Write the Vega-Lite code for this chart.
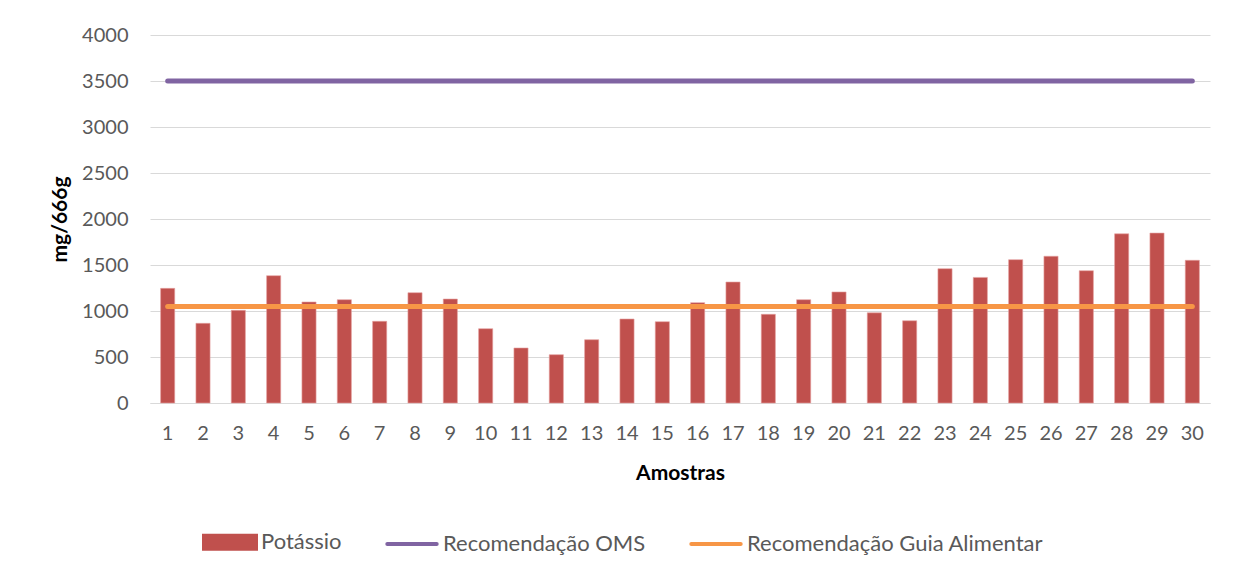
{
  "$schema": "https://vega.github.io/schema/vega-lite/v6.json",
  "width": 1060,
  "height": 368,
  "autosize": "none",
  "padding": {"left": 150, "top": 35, "right": 31, "bottom": 174},
  "background": "white",
  "config": {
    "view": {"stroke": null},
    "font": "Lato",
    "legend": {
      "orient": "none",
      "legendX": 52,
      "legendY": 479,
      "direction": "horizontal",
      "columns": 3,
      "symbolSize": 2704,
      "labelFont": "Lato",
      "labelFontSize": 22,
      "labelColor": "#595959",
      "labelOffset": 3,
      "labelLimit": 500,
      "columnPadding": 37
    }
  },
  "data": {
    "values": [
      {"amostra": 1, "potassio": 1246, "oms": 3500, "guia": 1050},
      {"amostra": 2, "potassio": 866, "oms": 3500, "guia": 1050},
      {"amostra": 3, "potassio": 1007, "oms": 3500, "guia": 1050},
      {"amostra": 4, "potassio": 1384, "oms": 3500, "guia": 1050},
      {"amostra": 5, "potassio": 1098, "oms": 3500, "guia": 1050},
      {"amostra": 6, "potassio": 1123, "oms": 3500, "guia": 1050},
      {"amostra": 7, "potassio": 888, "oms": 3500, "guia": 1050},
      {"amostra": 8, "potassio": 1199, "oms": 3500, "guia": 1050},
      {"amostra": 9, "potassio": 1130, "oms": 3500, "guia": 1050},
      {"amostra": 10, "potassio": 808, "oms": 3500, "guia": 1050},
      {"amostra": 11, "potassio": 598, "oms": 3500, "guia": 1050},
      {"amostra": 12, "potassio": 525, "oms": 3500, "guia": 1050},
      {"amostra": 13, "potassio": 688, "oms": 3500, "guia": 1050},
      {"amostra": 14, "potassio": 913, "oms": 3500, "guia": 1050},
      {"amostra": 15, "potassio": 884, "oms": 3500, "guia": 1050},
      {"amostra": 16, "potassio": 1091, "oms": 3500, "guia": 1050},
      {"amostra": 17, "potassio": 1315, "oms": 3500, "guia": 1050},
      {"amostra": 18, "potassio": 964, "oms": 3500, "guia": 1050},
      {"amostra": 19, "potassio": 1123, "oms": 3500, "guia": 1050},
      {"amostra": 20, "potassio": 1207, "oms": 3500, "guia": 1050},
      {"amostra": 21, "potassio": 980, "oms": 3500, "guia": 1050},
      {"amostra": 22, "potassio": 894, "oms": 3500, "guia": 1050},
      {"amostra": 23, "potassio": 1460, "oms": 3500, "guia": 1050},
      {"amostra": 24, "potassio": 1365, "oms": 3500, "guia": 1050},
      {"amostra": 25, "potassio": 1558, "oms": 3500, "guia": 1050},
      {"amostra": 26, "potassio": 1595, "oms": 3500, "guia": 1050},
      {"amostra": 27, "potassio": 1438, "oms": 3500, "guia": 1050},
      {"amostra": 28, "potassio": 1839, "oms": 3500, "guia": 1050},
      {"amostra": 29, "potassio": 1847, "oms": 3500, "guia": 1050},
      {"amostra": 30, "potassio": 1551, "oms": 3500, "guia": 1050}
    ]
  },
  "encoding": {
    "x": {
      "field": "amostra",
      "type": "ordinal",
      "scale": {"paddingInner": 0.6, "paddingOuter": 0.3},
      "axis": {
        "title": "Amostras",
        "titleFont": "Lato",
        "titleFontSize": 21,
        "titleFontWeight": "bold",
        "titleColor": "#000000",
        "titleBaseline": "middle",
        "titleX": 530,
        "titleY": 70,
        "labelAngle": 0,
        "labelFont": "Lato",
        "labelFontSize": 20,
        "labelColor": "#595959",
        "labelPadding": 20,
        "ticks": false,
        "domain": true,
        "domainColor": "#D9D9D9",
        "domainWidth": 1,
        "grid": false
      }
    }
  },
  "layer": [
    {
      "mark": {"type": "bar", "stroke": "#E6A3A1", "strokeWidth": 0.6},
      "encoding": {
        "y": {
          "field": "potassio",
          "type": "quantitative",
          "title": "mg/666g",
          "scale": {"domain": [0, 4000], "nice": false},
          "axis": {
            "values": [0, 500, 1000, 1500, 2000, 2500, 3000, 3500, 4000],
            "format": "d",
            "labelFont": "Lato",
            "labelFontSize": 20,
            "labelColor": "#595959",
            "labelPadding": 22,
            "ticks": false,
            "domain": false,
            "gridColor": "#D9D9D9",
            "gridWidth": 1,
            "titleFont": "Lato",
            "titleFontSize": 21,
            "titleFontWeight": "bold",
            "titleColor": "#000000",
            "titleBaseline": "middle",
            "titleAngle": -90,
            "titleX": -90,
            "titleY": 184
          }
        },
        "color": {
          "datum": "Potássio",
          "type": "nominal",
          "scale": {
            "domain": ["Potássio", "Recomendação OMS", "Recomendação Guia Alimentar"],
            "range": ["#C0504D", "#8064A2", "#F79646"]
          },
          "legend": {
            "title": null,
            "encode": {
              "symbols": {
                "update": {
                  "shape": {"signal": "datum.value === 'Potássio' ? 'M-1,-0.25H1V0.25H-1Z' : 'M-0.95,0H0.95'"},
                  "fill": {"signal": "datum.value === 'Potássio' ? '#C0504D' : 'transparent'"},
                  "stroke": {"signal": "datum.value === 'Potássio' ? 'transparent' : (datum.value === 'Recomendação OMS' ? '#8064A2' : '#F79646')"},
                  "strokeWidth": {"value": 4},
                  "strokeCap": {"value": "round"},
                  "opacity": {"value": 1}
                }
              }
            }
          }
        }
      }
    },
    {
      "mark": {"type": "line", "strokeWidth": 5, "strokeCap": "round"},
      "encoding": {
        "y": {"field": "oms", "type": "quantitative", "title": "mg/666g"},
        "color": {
          "datum": "Recomendação OMS",
          "type": "nominal",
          "legend": {
            "title": null,
            "encode": {
              "symbols": {
                "update": {
                  "shape": {"signal": "datum.value === 'Potássio' ? 'M-1,-0.25H1V0.25H-1Z' : 'M-0.95,0H0.95'"},
                  "fill": {"signal": "datum.value === 'Potássio' ? '#C0504D' : 'transparent'"},
                  "stroke": {"signal": "datum.value === 'Potássio' ? 'transparent' : (datum.value === 'Recomendação OMS' ? '#8064A2' : '#F79646')"},
                  "strokeWidth": {"value": 4},
                  "strokeCap": {"value": "round"},
                  "opacity": {"value": 1}
                }
              }
            }
          }
        }
      }
    },
    {
      "mark": {"type": "line", "strokeWidth": 5, "strokeCap": "round"},
      "encoding": {
        "y": {"field": "guia", "type": "quantitative", "title": "mg/666g"},
        "color": {
          "datum": "Recomendação Guia Alimentar",
          "type": "nominal",
          "legend": {
            "title": null,
            "encode": {
              "symbols": {
                "update": {
                  "shape": {"signal": "datum.value === 'Potássio' ? 'M-1,-0.25H1V0.25H-1Z' : 'M-0.95,0H0.95'"},
                  "fill": {"signal": "datum.value === 'Potássio' ? '#C0504D' : 'transparent'"},
                  "stroke": {"signal": "datum.value === 'Potássio' ? 'transparent' : (datum.value === 'Recomendação OMS' ? '#8064A2' : '#F79646')"},
                  "strokeWidth": {"value": 4},
                  "strokeCap": {"value": "round"},
                  "opacity": {"value": 1}
                }
              }
            }
          }
        }
      }
    }
  ]
}
